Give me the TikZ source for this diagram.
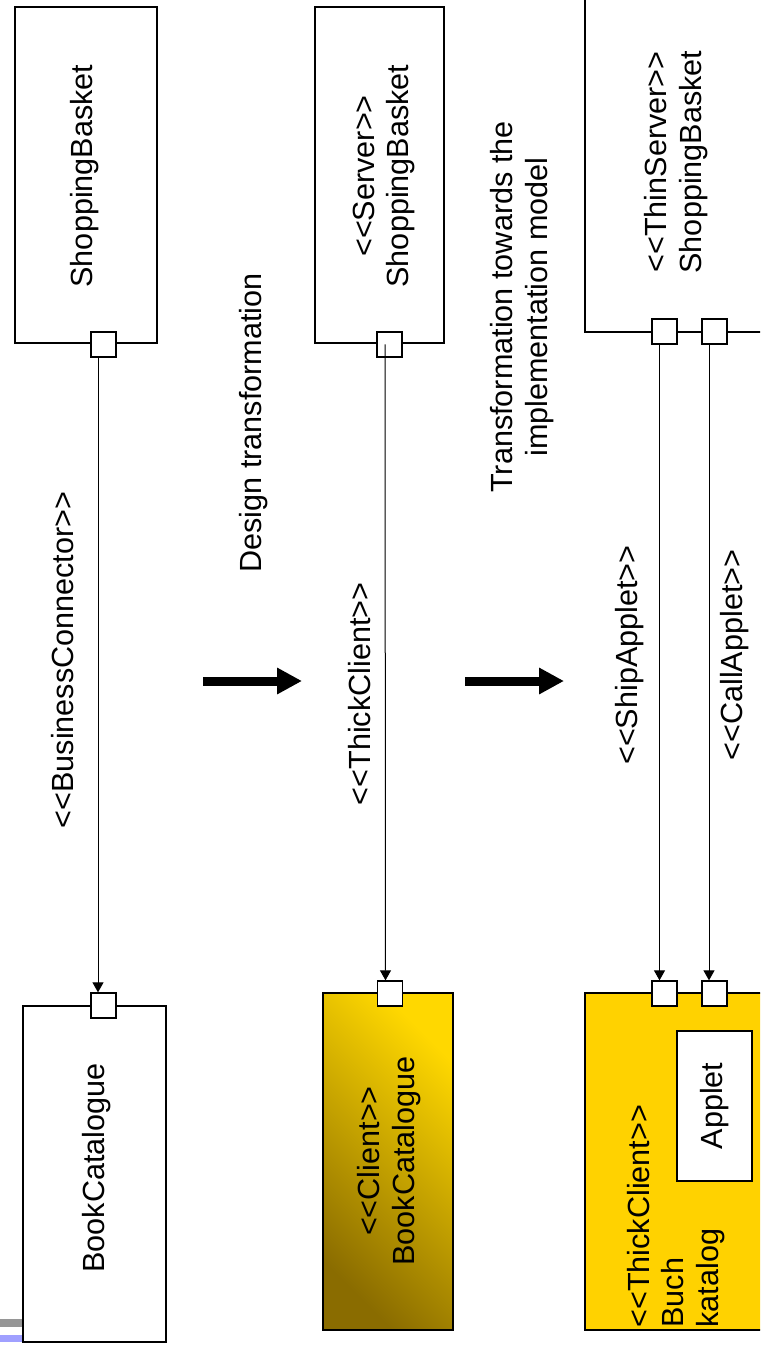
\documentclass[tikz,border=0pt]{standalone}
\usepackage{fontspec}
\setmainfont{Liberation Sans}[Ligatures=TeXOff]
\usetikzlibrary{arrows.meta}

\definecolor{gold}{RGB}{255,210,0}
\definecolor{goldlight}{RGB}{255,216,0}
\definecolor{golddark}{RGB}{138,108,0}
\definecolor{bargray}{RGB}{150,150,150}
\definecolor{barblue}{RGB}{160,160,255}

\begin{document}
\begin{tikzpicture}[x=0.5pt, y=-0.5pt,
    box/.style={rectangle, draw, line width=0.65pt, inner sep=0pt},
    port/.style={rectangle, draw, line width=0.65pt, fill=white, inner sep=0pt, minimum size=12.5pt},
    txt/.style={rotate=90, font=\fontsize{15.3}{17.2}\selectfont, align=center, inner sep=0pt},
    conn/.style={line width=0.5pt, -{Triangle[length=5pt,width=5.5pt]}},
    bigarrow/.style={line width=4.5pt, -{Triangle[length=12.5pt,width=12.5pt]}}]
    \useasboundingbox (0,0) rectangle (760,1352);
    \clip (0,0) rectangle (760,1352);
    % slide bars
    \fill[bargray] (0,1319) rectangle (23,1327);
    \fill[barblue] (0,1335) rectangle (103,1342);
    % components
    \node[box, minimum width=71pt, minimum height=168pt] (sb1) at (86,175) {};
    \node[box, minimum width=64.5pt, minimum height=168pt] (sb2) at (379.5,175) {};
    \node[box, minimum width=157.5pt, minimum height=216pt] (sb3) at (742.5,116) {};
    \node[box, fill=white, minimum width=71.5pt, minimum height=168pt] (bc1) at (94.5,1174) {};
    \node[box, bottom color=golddark, top color=goldlight, shading angle=-45, minimum width=65pt, minimum height=168.5pt] (bc2) at (388,1161.5) {};
    \node[box, fill=gold, minimum width=157.5pt, minimum height=168.5pt] (bc3) at (742.5,1161.5) {};
    \node[box, fill=white, minimum width=37.5pt, minimum height=75pt] (app) at (714.5,1106) {};
    \node[txt] (sb1t) at (85,176) {ShoppingBasket};
    \node[txt] (sb2t) at (384,176) {<<Server>>\\ShoppingBasket};
    \node[txt] (sb3t) at (676,162) {<<ThinServer>>\\ShoppingBasket};
    \node[txt] (bc1t) at (97,1168) {BookCatalogue};
    \node[txt] (bc2t) at (389,1161) {<<Client>>\\BookCatalogue};
    \node[txt, anchor=west, align=left] (bc3t) at (676,1328) {<<ThickClient>>\\Buch\\katalog};
    \node[txt] (appt) at (app) {Applet};
    % ports
    \node[port] (p1) at (103.5,344.5) {};
    \node[port] (q1) at (103.5,1005.5) {};
    \node[port] (p2) at (389.5,344.5) {};
    \node[port] (q2) at (390,993.5) {};
    \node[port] (p3a) at (664.5,331.5) {};
    \node[port] (p3b) at (714.5,331.5) {};
    \node[port] (q3a) at (664.5,993.5) {};
    \node[port] (q3b) at (714.5,993.5) {};
    % connectors
    \draw[conn] ([xshift=-2.75pt]p1.south) -- ([xshift=-2.75pt]q1.north);
    \draw[conn] ([xshift=-2.25pt]p2.center) -- ([xshift=-2.25pt]q2.north);
    \draw[conn] ([xshift=-2.5pt]p3a.south) -- ([xshift=-2.5pt]q3a.north);
    \draw[conn] ([xshift=-2.75pt]p3b.south) -- ([xshift=-2.75pt]q3b.north);
    \node[txt] (bcon) at (63,660) {<<BusinessConnector>>};
    \node[txt] (tcon) at (360,694) {<<ThickClient>>};
    \node[txt] (ship) at (630,655) {<<ShipApplet>>};
    \node[txt] (call) at (735,655) {<<CallApplet>>};
    % transformations
    \node[txt] (dt) at (254,423) {Design transformation};
    \node[txt] (ti) at (522,307) {Transformation towards the\\implementation model};
    \coordinate (a1s) at (203,681);
    \coordinate (a1e) at (302,681);
    \coordinate (a2s) at (465,681);
    \coordinate (a2e) at (564,681);
    \draw[bigarrow] (a1s) -- (a1e);
    \draw[bigarrow] (a2s) -- (a2e);
\end{tikzpicture}
\end{document}
